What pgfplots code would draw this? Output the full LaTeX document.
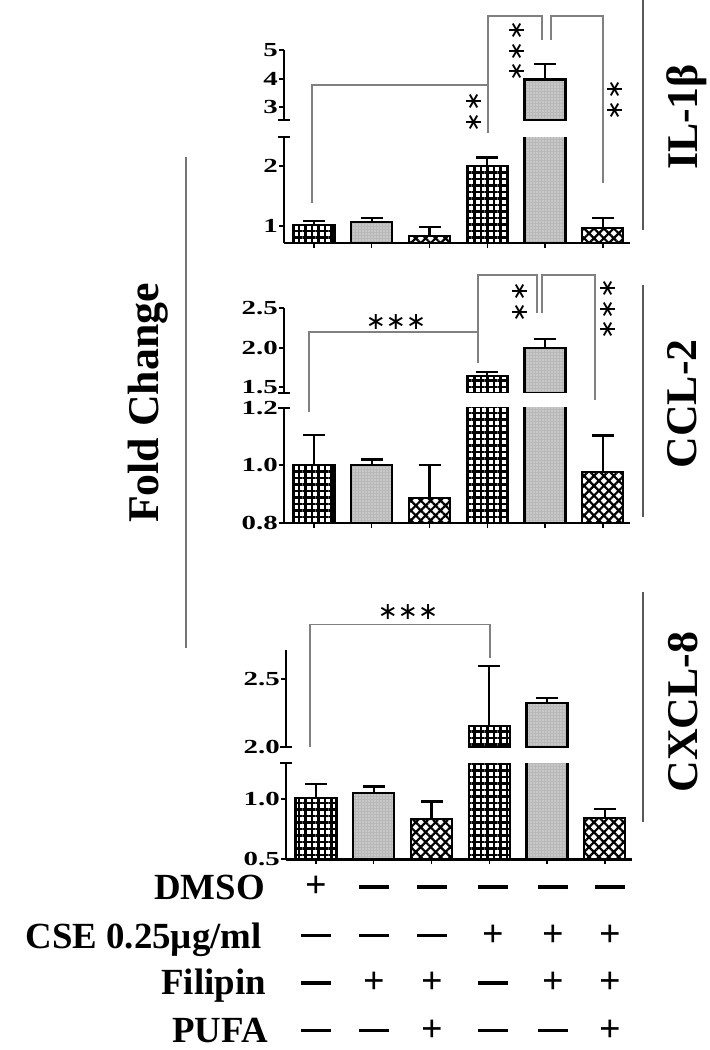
\documentclass[border=0pt]{standalone}
\usepackage{pgfplots}
\pgfplotsset{compat=1.18}
\usepackage{fontspec}
\setmainfont{Liberation Serif}
\newfontfamily\starfont{DejaVu Sans}
\usetikzlibrary{patterns,patterns.meta}
\usepackage{graphicx}

\newcommand{\tl}[1]{\scalebox{1.45}[1]{#1}}
\newcommand{\st}{{\starfont\fontsize{24}{24}\selectfont ∗}}
\newcommand{\sgp}{{\fontsize{38}{38}\selectfont\bfseries +}}
\newcommand{\sgm}{\rule{30bp}{3.5bp}}

\pgfplotsset{
  panel/.style={
    scale only axis, anchor=south west, width=346bp,
    xmin=-0.52, xmax=5.47,
    axis y line*=left,
    axis line style={line width=2.4bp, black},
    tick align=outside, major tick length=5bp,
    ytick style={line width=2bp, black},
    yticklabel style={font=\fontsize{20}{20}\selectfont\bfseries, inner xsep=1bp},
    extra y tick style={tick align=center, major tick length=12bp, ytick style={line width=2bp}},
    extra y tick labels={},
  },
  lowerpanel/.style={panel, axis x line*=bottom, xtick={0,...,5}, xticklabels={},
    xtick style={line width=1.3bp, black}},
  upperpanel/.style={panel, axis x line=none},
  barbase/.style={ybar, bar width=41bp, bar shift=0pt, draw=black, line width=2.2bp,
    error bars/y dir=plus, error bars/y explicit,
    error bars/error bar style={line width=2.2bp, black, solid},
    error bars/error mark options={rotate=90, line width=2.2bp, black, mark size=11bp}},
  barA/.style={barbase, fill=white, postaction={pattern={Hatch[angle=0,distance=6.5bp,line width=2.4bp]}}},
  barB/.style={barbase, fill=black!28, postaction={pattern={Dots[distance=3bp,radius=0.6bp]}, pattern color=white}},
  barC/.style={barbase, fill=white, postaction={pattern={Hatch[angle=45,distance=7bp,line width=2.2bp]}}},
}

\newcommand{\ILdata}{
 \addplot[barA] coordinates {(0,1.02) +- (0,0.067) (3,2.0) +- (0,0.14)};
 \addplot[barB] coordinates {(1,1.07) +- (0,0.06) (4,3.965) +- (0,0.55)};
 \addplot[barC] coordinates {(2,0.83) +- (0,0.15) (5,0.97) +- (0,0.17)};
}
\newcommand{\CCLdata}{
 \addplot[barA] coordinates {(0,1.0) +- (0,0.105) (3,1.64) +- (0,0.055)};
 \addplot[barB] coordinates {(1,1.0) +- (0,0.02) (4,2.0) +- (0,0.11)};
 \addplot[barC] coordinates {(2,0.886) +- (0,0.114) (5,0.977) +- (0,0.126)};
}
\newcommand{\CXCLdata}{
 \addplot[barA] coordinates {(0,1.01) +- (0,0.117) (3,2.156) +- (0,0.44)};
 \addplot[barB] coordinates {(1,1.05) +- (0,0.055) (4,2.322) +- (0,0.04)};
 \addplot[barC] coordinates {(2,0.833) +- (0,0.147) (5,0.842) +- (0,0.077)};
}

\begin{document}
\begin{tikzpicture}
\useasboundingbox (0,0) rectangle (710bp,-1050bp);

% ---------- IL-1beta ----------
\begin{axis}[lowerpanel, at={(284bp,-243bp)}, height=106bp,
  ymin=0.72, ymax=2.48, ytick={1,2}, yticklabels={\tl{1},\tl{2}}, extra y ticks={2.48}]
 \ILdata
\end{axis}
\begin{axis}[upperpanel, at={(284bp,-120bp)}, height=70bp,
  ymin=2.55, ymax=5, ytick={3,4,5}, yticklabels={\tl{3},\tl{4},\tl{5}}, extra y ticks={2.55},
  restrict y to domain=2.55:10]
 \ILdata
\end{axis}

% ---------- CCL-2 ----------
\begin{axis}[lowerpanel, at={(284bp,-522.7bp)}, height=115bp,
  ymin=0.8, ymax=1.2, ytick={0.8,1.0,1.2}, yticklabels={\tl{0.8},\tl{1.0},\tl{1.2}}, extra y ticks={1.2}]
 \CCLdata
\end{axis}
\begin{axis}[upperpanel, at={(284bp,-392.7bp)}, height=84.7bp,
  ymin=1.433, ymax=2.5, ytick={1.5,2.0,2.5}, yticklabels={\tl{1.5},\tl{2.0},\tl{2.5}}, extra y ticks={1.433},
  restrict y to domain=1.433:10]
 \CCLdata
\end{axis}

% ---------- CXCL-8 ----------
\begin{axis}[lowerpanel, at={(286bp,-859.3bp)}, height=96.3bp,
  ymin=0.5, ymax=1.3, ytick={0.5,1.0}, yticklabels={\tl{0.5},\tl{1.0}}, extra y ticks={1.3}]
 \CXCLdata
\end{axis}
\begin{axis}[upperpanel, at={(286bp,-747.3bp)}, height=97.3bp,
  ymin=2.0, ymax=2.71, ytick={2.0,2.5}, yticklabels={\tl{2.0},\tl{2.5}}, extra y ticks={2.0},
  restrict y to domain=2.0:10]
 \CXCLdata
\end{axis}

\begin{scope}[x=1bp,y=-1bp, br/.style={draw=black!50, line width=1.4bp},
  lab/.style={font=\fontsize{44}{44}\selectfont\bfseries, rotate=90},
  vl/.style={draw=black!65, line width=1.4bp}]
% panel 1 brackets
\draw[br] (312,203) -- (312,85) -- (488,85);
\draw[br] (488,133) -- (488,16) -- (542,16) -- (542,40);
\draw[br] (551,40) -- (551,16) -- (603,16) -- (603,183);
\node[rotate=90] at (474,112) {\st\st};
\node[rotate=90] at (517,51) {\st\st\st};
\node[rotate=90] at (615,100) {\st\st};
% panel 2 brackets
\draw[br] (309,411.7) -- (309,332) -- (478,332);
\draw[br] (478,362.7) -- (478,275) -- (537,275) -- (537,313);
\draw[br] (542,313) -- (542,275) -- (595,275) -- (595,400);
\node at (396,321.7) {\st\st\st};
\node[rotate=90] at (520,302) {\st\st};
\node[rotate=90] at (608,309) {\st\st\st};
% panel 3 brackets
\draw[br] (310,746.7) -- (310,624.3) -- (490,624.3) -- (490,658);
\node at (408,611.7) {\st\st\st};

% right labels
\draw[vl] (643,0) -- (643,230);
\node[lab] at (687,117) {IL-1β};
\draw[vl] (643,285) -- (643,517);
\node[lab] at (682,404) {CCL-2};
\draw[vl] (643,592) -- (643,822);
\node[lab] at (683,712) {CXCL-8};

% fold change
\draw[black!55, line width=1.2bp] (186,157) -- (186,648);
\node[lab] at (148,403) {Fold Change};

% condition table
\begin{scope}[every node/.style={font=\fontsize{37}{37}\selectfont\bfseries, anchor=base east, inner sep=0pt}]
\node at (265,899.5) {DMSO};
\node at (262,948.5) {CSE 0.25µg/ml};
\node at (266,994.5) {Filipin};
\node at (268,1042.5) {PUFA};
\end{scope}
\foreach \x/\s in {316/p,374/m,432/m,493/m,553/m,610/m} \node[inner sep=0pt] at (\x,887) {\csname sg\s\endcsname};
\foreach \x/\s in {316/m,374/m,432/m,493/p,553/p,610/p} \node[inner sep=0pt] at (\x,935.5) {\csname sg\s\endcsname};
\foreach \x/\s in {316/m,374/p,432/p,493/m,553/p,610/p} \node[inner sep=0pt] at (\x,983) {\csname sg\s\endcsname};
\foreach \x/\s in {316/m,374/m,432/p,493/m,553/m,610/p} \node[inner sep=0pt] at (\x,1030.5) {\csname sg\s\endcsname};
\end{scope}
\end{tikzpicture}
\end{document}
